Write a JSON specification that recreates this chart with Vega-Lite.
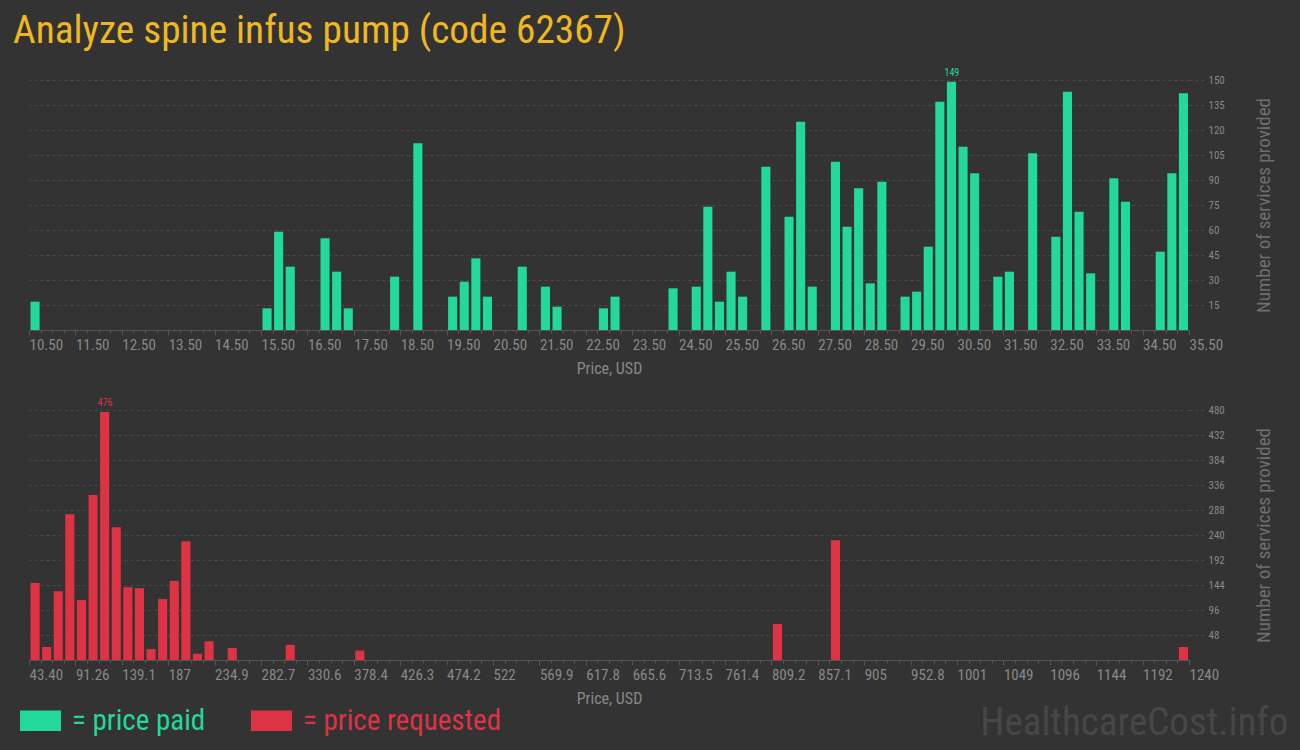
{
  "$schema": "https://vega.github.io/schema/vega-lite/v6.json",
  "background": "#333333",
  "padding": {"left": 13, "top": 12, "right": 12, "bottom": 12},
  "bounds": "flush",
  "spacing": 80,
  "title": {
    "text": "Analyze spine infus pump (code 62367)",
    "anchor": "start",
    "fontSize": 39.3,
    "font": "Roboto Condensed, Liberation Sans Narrow, DejaVu Sans Condensed, Roboto, sans-serif",
    "fontWeight": "normal",
    "color": "#efb822",
    "offset": 16,
    "dx": -7
  },
  "config": {
    "view": {"stroke": null},
    "axis": {
      "labelColor": "#888888",
      "titleColor": "#888888",
      "gridColor": "#4a4a4a",
      "gridDash": [3, 3],
      "domainColor": "#555555",
      "tickColor": "#555555",
      "labelFont": "Roboto Condensed, Liberation Sans Narrow, DejaVu Sans Condensed, Roboto, sans-serif",
      "titleFont": "Roboto Condensed, Liberation Sans Narrow, DejaVu Sans Condensed, Roboto, sans-serif",
      "titleFontWeight": "normal"
    }
  },
  "datasets": {
    "paid": [
      {"lo": 10.5, "hi": 10.75, "n": 17},
      {"lo": 15.5, "hi": 15.75, "n": 13},
      {"lo": 15.75, "hi": 16, "n": 59},
      {"lo": 16, "hi": 16.25, "n": 38},
      {"lo": 16.75, "hi": 17, "n": 55},
      {"lo": 17, "hi": 17.25, "n": 35},
      {"lo": 17.25, "hi": 17.5, "n": 13},
      {"lo": 18.25, "hi": 18.5, "n": 32},
      {"lo": 18.75, "hi": 19, "n": 112},
      {"lo": 19.5, "hi": 19.75, "n": 20},
      {"lo": 19.75, "hi": 20, "n": 29},
      {"lo": 20, "hi": 20.25, "n": 43},
      {"lo": 20.25, "hi": 20.5, "n": 20},
      {"lo": 21, "hi": 21.25, "n": 38},
      {"lo": 21.5, "hi": 21.75, "n": 26},
      {"lo": 21.75, "hi": 22, "n": 14},
      {"lo": 22.75, "hi": 23, "n": 13},
      {"lo": 23, "hi": 23.25, "n": 20},
      {"lo": 24.25, "hi": 24.5, "n": 25},
      {"lo": 24.75, "hi": 25, "n": 26},
      {"lo": 25, "hi": 25.25, "n": 74},
      {"lo": 25.25, "hi": 25.5, "n": 17},
      {"lo": 25.5, "hi": 25.75, "n": 35},
      {"lo": 25.75, "hi": 26, "n": 20},
      {"lo": 26.25, "hi": 26.5, "n": 98},
      {"lo": 26.75, "hi": 27, "n": 68},
      {"lo": 27, "hi": 27.25, "n": 125},
      {"lo": 27.25, "hi": 27.5, "n": 26},
      {"lo": 27.75, "hi": 28, "n": 101},
      {"lo": 28, "hi": 28.25, "n": 62},
      {"lo": 28.25, "hi": 28.5, "n": 85},
      {"lo": 28.5, "hi": 28.75, "n": 28},
      {"lo": 28.75, "hi": 29, "n": 89},
      {"lo": 29.25, "hi": 29.5, "n": 20},
      {"lo": 29.5, "hi": 29.75, "n": 23},
      {"lo": 29.75, "hi": 30, "n": 50},
      {"lo": 30, "hi": 30.25, "n": 137},
      {"lo": 30.25, "hi": 30.5, "n": 149},
      {"lo": 30.5, "hi": 30.75, "n": 110},
      {"lo": 30.75, "hi": 31, "n": 94},
      {"lo": 31.25, "hi": 31.5, "n": 32},
      {"lo": 31.5, "hi": 31.75, "n": 35},
      {"lo": 32, "hi": 32.25, "n": 106},
      {"lo": 32.5, "hi": 32.75, "n": 56},
      {"lo": 32.75, "hi": 33, "n": 143},
      {"lo": 33, "hi": 33.25, "n": 71},
      {"lo": 33.25, "hi": 33.5, "n": 34},
      {"lo": 33.75, "hi": 34, "n": 91},
      {"lo": 34, "hi": 34.25, "n": 77},
      {"lo": 34.75, "hi": 35, "n": 47},
      {"lo": 35, "hi": 35.25, "n": 94},
      {"lo": 35.25, "hi": 35.5, "n": 142}
    ],
    "requested": [
      {"lo": 43.4, "hi": 55.366, "n": 148},
      {"lo": 55.366, "hi": 67.332, "n": 25},
      {"lo": 67.332, "hi": 79.298, "n": 132},
      {"lo": 79.298, "hi": 91.264, "n": 280},
      {"lo": 91.264, "hi": 103.23, "n": 115},
      {"lo": 103.23, "hi": 115.196, "n": 317},
      {"lo": 115.196, "hi": 127.162, "n": 476},
      {"lo": 127.162, "hi": 139.128, "n": 255},
      {"lo": 139.128, "hi": 151.094, "n": 140},
      {"lo": 151.094, "hi": 163.06, "n": 138},
      {"lo": 163.06, "hi": 175.026, "n": 21},
      {"lo": 175.026, "hi": 186.992, "n": 117},
      {"lo": 186.992, "hi": 198.958, "n": 152},
      {"lo": 198.958, "hi": 210.924, "n": 228},
      {"lo": 210.924, "hi": 222.89, "n": 12},
      {"lo": 222.89, "hi": 234.856, "n": 36},
      {"lo": 246.822, "hi": 258.788, "n": 23},
      {"lo": 306.652, "hi": 318.618, "n": 29},
      {"lo": 378.448, "hi": 390.414, "n": 18},
      {"lo": 809.224, "hi": 821.19, "n": 69},
      {"lo": 869.054, "hi": 881.02, "n": 230},
      {"lo": 1228.034, "hi": 1240, "n": 25}
    ]
  },
  "vconcat": [
    {
      "width": 1160,
      "height": 250,
      "data": {"name": "paid"},
      "encoding": {
        "y": {
          "field": "n",
          "type": "quantitative",
          "scale": {"domain": [0, 150], "nice": false},
          "axis": {
            "orient": "right",
            "values": [15, 30, 45, 60, 75, 90, 105, 120, 135, 150],
            "title": "Number of services provided",
            "titleAngle": 270,
            "titleBaseline": "top",
            "titleFontSize": 19,
            "titleColor": "#6f6f6f",
            "titlePadding": 30,
            "domain": false,
            "tickSize": 16,
            "tickDash": [3, 3],
            "tickColor": "#4a4a4a",
            "labelFontSize": 11,
            "labelPadding": 3
          }
        }
      },
      "layer": [
        {
          "mark": {"type": "bar", "xOffset": 1.5, "x2Offset": -1},
          "encoding": {
            "x": {
              "field": "lo",
              "type": "quantitative",
              "scale": {"domain": [10.5, 35.5], "nice": false, "zero": false},
              "axis": {
                "values": [10.5, 11.5, 12.5, 13.5, 14.5, 15.5, 16.5, 17.5, 18.5, 19.5, 20.5, 21.5, 22.5, 23.5, 24.5, 25.5, 26.5, 27.5, 28.5, 29.5, 30.5, 31.5, 32.5, 33.5, 34.5, 35.5],
                "format": ".2f",
                "title": "Price, USD",
                "titleFontSize": 16,
                "titlePadding": 8,
                "grid": false,
                "tickSize": 5,
                "labelFontSize": 15,
                "labelAlign": "left",
                "labelDx": -5,
                "labelPadding": 2,
                "labelOverlap": false,
                "labelFlush": false
              }
            },
            "x2": {"field": "hi"},
            "y2": {"datum": 0},
            "color": {
              "datum": "price paid",
              "type": "nominal",
              "scale": {"domain": ["price paid", "price requested"], "range": ["#22d99a", "#dd3344"]},
              "legend": {
                "orient": "none",
                "legendX": -9,
                "legendY": 620,
                "direction": "horizontal",
                "title": null,
                "symbolType": "M-1,-0.5H1V0.5H-1Z",
                "symbolSize": 1681,
                "symbolStrokeWidth": 0,
                "symbolOpacity": 1,
                "labelFont": "Roboto Condensed, Liberation Sans Narrow, DejaVu Sans Condensed, Roboto, sans-serif",
                "labelFontSize": 29,
                "labelOffset": 11,
                "labelLimit": 500,
                "columnPadding": 45,
                "labelExpr": "'= ' + datum.label",
                "labelColor": {"expr": "datum.value == 'price paid' ? '#22d99a' : '#dd3344'"}
              }
            }
          }
        },
        {
          "transform": [
            {"joinaggregate": [{"op": "max", "field": "n", "as": "mx"}]},
            {"filter": "datum.n == datum.mx"}
          ],
          "mark": {"type": "text", "dx": 6.5, "dy": -9, "fontSize": 10, "color": "#22d99a", "font": "Roboto Condensed, Liberation Sans Narrow, DejaVu Sans Condensed, Roboto, sans-serif"},
          "encoding": {
            "x": {
              "field": "lo",
              "type": "quantitative",
              "axis": {
                "orient": "bottom",
                "values": [10.5,10.75,11,11.25,11.5,11.75,12,12.25,12.5,12.75,13,13.25,13.5,13.75,14,14.25,14.5,14.75,15,15.25,15.5,15.75,16,16.25,16.5,16.75,17,17.25,17.5,17.75,18,18.25,18.5,18.75,19,19.25,19.5,19.75,20,20.25,20.5,20.75,21,21.25,21.5,21.75,22,22.25,22.5,22.75,23,23.25,23.5,23.75,24,24.25,24.5,24.75,25,25.25,25.5,25.75,26,26.25,26.5,26.75,27,27.25,27.5,27.75,28,28.25,28.5,28.75,29,29.25,29.5,29.75,30,30.25,30.5,30.75,31,31.25,31.5,31.75,32,32.25,32.5,32.75,33,33.25,33.5,33.75,34,34.25,34.5,34.75,35,35.25,35.5],
                "labels": false,
                "domain": false,
                "grid": false,
                "tickSize": 3,
                "title": null
              }
            },
            "text": {"field": "n", "type": "quantitative"}
          }
        }
      ],
      "resolve": {"axis": {"x": "independent"}}
    },
    {
      "width": 1160,
      "height": 250,
      "data": {"name": "requested"},
      "title": {
        "text": "HealthcareCost.info",
        "orient": "bottom",
        "anchor": "end",
        "font": "Roboto Condensed, Liberation Sans Narrow, DejaVu Sans Condensed, Roboto, sans-serif",
        "fontSize": 39,
        "fontWeight": "normal",
        "color": "#474747",
        "offset": -2,
        "dx": 15
      },
      "encoding": {
        "y": {
          "field": "n",
          "type": "quantitative",
          "scale": {"domain": [0, 480], "nice": false},
          "axis": {
            "orient": "right",
            "values": [48, 96, 144, 192, 240, 288, 336, 384, 432, 480],
            "title": "Number of services provided",
            "titleAngle": 270,
            "titleBaseline": "top",
            "titleFontSize": 19,
            "titleColor": "#6f6f6f",
            "titlePadding": 30,
            "domain": false,
            "tickSize": 16,
            "tickDash": [3, 3],
            "tickColor": "#4a4a4a",
            "labelFontSize": 11,
            "labelPadding": 3
          }
        }
      },
      "layer": [
        {
          "mark": {"type": "bar", "xOffset": 1.5, "x2Offset": -1},
          "encoding": {
            "x": {
              "field": "lo",
              "type": "quantitative",
              "scale": {"domain": [43.4, 1240], "nice": false, "zero": false},
              "axis": {
                "values": [43.4, 91.264, 139.128, 186.992, 234.856, 282.72, 330.584, 378.448, 426.312, 474.176, 522.04, 569.904, 617.768, 665.632, 713.496, 761.36, 809.224, 857.088, 904.952, 952.816, 1000.68, 1048.544, 1096.408, 1144.272, 1192.136, 1240],
                "labelExpr": "['43.40','91.26','139.1','187','234.9','282.7','330.6','378.4','426.3','474.2','522','569.9','617.8','665.6','713.5','761.4','809.2','857.1','905','952.8','1001','1049','1096','1144','1192','1240'][round((datum.value - 43.4) / 47.864)]",
                "title": "Price, USD",
                "titleFontSize": 16,
                "titlePadding": 8,
                "grid": false,
                "tickSize": 5,
                "labelFontSize": 15,
                "labelAlign": "left",
                "labelDx": -5,
                "labelPadding": 2,
                "labelOverlap": false,
                "labelFlush": false
              }
            },
            "x2": {"field": "hi"},
            "y2": {"datum": 0},
            "color": {
              "datum": "price requested",
              "type": "nominal",
              "scale": {"domain": ["price paid", "price requested"], "range": ["#22d99a", "#dd3344"]},
              "legend": {
                "orient": "none",
                "legendX": -9,
                "legendY": 620,
                "direction": "horizontal",
                "title": null,
                "symbolType": "M-1,-0.5H1V0.5H-1Z",
                "symbolSize": 1681,
                "symbolStrokeWidth": 0,
                "symbolOpacity": 1,
                "labelFont": "Roboto Condensed, Liberation Sans Narrow, DejaVu Sans Condensed, Roboto, sans-serif",
                "labelFontSize": 29,
                "labelOffset": 11,
                "labelLimit": 500,
                "columnPadding": 45,
                "labelExpr": "'= ' + datum.label",
                "labelColor": {"expr": "datum.value == 'price paid' ? '#22d99a' : '#dd3344'"}
              }
            }
          }
        },
        {
          "transform": [
            {"joinaggregate": [{"op": "max", "field": "n", "as": "mx"}]},
            {"filter": "datum.n == datum.mx"}
          ],
          "mark": {"type": "text", "dx": 6.5, "dy": -9, "fontSize": 10, "color": "#dd3344", "font": "Roboto Condensed, Liberation Sans Narrow, DejaVu Sans Condensed, Roboto, sans-serif"},
          "encoding": {
            "x": {
              "field": "lo",
              "type": "quantitative",
              "axis": {
                "orient": "bottom",
                "values": [43.4,55.366,67.332,79.298,91.264,103.23,115.196,127.162,139.128,151.094,163.06,175.026,186.992,198.958,210.924,222.89,234.856,246.822,258.788,270.754,282.72,294.686,306.652,318.618,330.584,342.55,354.516,366.482,378.448,390.414,402.38,414.346,426.312,438.278,450.244,462.21,474.176,486.142,498.108,510.074,522.04,534.006,545.972,557.938,569.904,581.87,593.836,605.802,617.768,629.734,641.7,653.666,665.632,677.598,689.564,701.53,713.496,725.462,737.428,749.394,761.36,773.326,785.292,797.258,809.224,821.19,833.156,845.122,857.088,869.054,881.02,892.986,904.952,916.918,928.884,940.85,952.816,964.782,976.748,988.714,1000.68,1012.646,1024.612,1036.578,1048.544,1060.51,1072.476,1084.442,1096.408,1108.374,1120.34,1132.306,1144.272,1156.238,1168.204,1180.17,1192.136,1204.102,1216.068,1228.034,1240],
                "labels": false,
                "domain": false,
                "grid": false,
                "tickSize": 3,
                "title": null
              }
            },
            "text": {"field": "n", "type": "quantitative"}
          }
        }
      ],
      "resolve": {"axis": {"x": "independent"}}
    }
  ],
  "resolve": {"scale": {"color": "shared"}, "legend": {"color": "shared"}}
}
